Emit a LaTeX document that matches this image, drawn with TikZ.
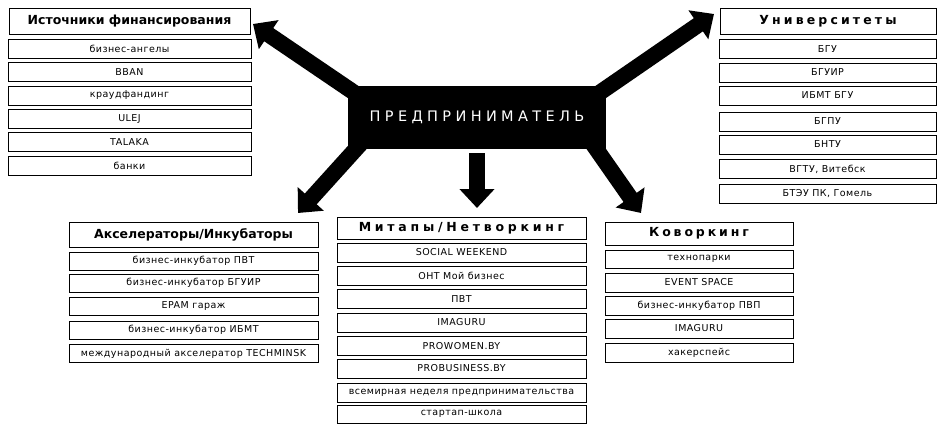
\documentclass[tikz,border=0pt]{standalone}
\usepackage{fontspec}
\setmainfont{DejaVu Sans}
\usetikzlibrary{arrows.meta}
\tikzset{
  box/.style={draw=black, line width=0.8pt, inner sep=0pt, outer sep=0pt, fill=white},
  item/.style={box, minimum height=19pt, font=\fontsize{9.5}{11}\selectfont\addfontfeatures{LetterSpace=5}},
  hdr/.style={box, font=\fontsize{12.5}{14}\selectfont\bfseries},
  hub/.style={fill=black, text=white, inner sep=0pt, outer sep=0pt, minimum width=258pt, minimum height=63pt,
     font=\fontsize{14.5}{16}\selectfont\addfontfeatures{LetterSpace=30}},
  bigarrow/.style={line width=16pt, -{Triangle[length=19pt,width=34pt]}, black}
}
\begin{document}
\begin{tikzpicture}[x=1pt,y=-1pt]
\useasboundingbox (0,0) rectangle (945,431);
% hub
\node[hub] (hub) at (477,117.5) {ПРЕДПРИНИМАТЕЛЬ};
\coordinate (s1) at (362,98);
\coordinate (t1) at (253,24);
\coordinate (s2) at (592,98);
\coordinate (t2) at (714,14);
\coordinate (s3) at (364,140);
\coordinate (t3) at (298,213);
\coordinate (s4) at (590,140);
\coordinate (t4) at (641,213);
\coordinate (s5) at (hub.south);
\coordinate (t5) at (477,208);
\draw[bigarrow] (s1) -- (t1);
\draw[bigarrow] (s2) -- (t2);
\draw[bigarrow] (s3) -- (t3);
\draw[bigarrow] (s4) -- (t4);
\draw[bigarrow] ([yshift=-4pt]s5) -- (t5);
% left group
\node[hdr, minimum width=241pt, minimum height=26pt] (L) at (129.5,21) {Источники финансирования};
\node[item, minimum width=243pt] (L1) at (129.5,49) {бизнес-ангелы};
\node[item, minimum width=243pt] (L2) at (129.5,72) {BBAN};
\node[item, minimum width=243pt] (L3) at (129.5,95.5) {краудфандинг};
\node[item, minimum width=243pt] (L4) at (129.5,118.5) {ULEJ};
\node[item, minimum width=243pt] (L5) at (129.5,142) {TALAKA};
\node[item, minimum width=243pt] (L6) at (129.5,166) {банки};
% right group
\node[hdr, minimum width=216pt, minimum height=26pt, font=\fontsize{12.5}{14}\selectfont\bfseries\addfontfeatures{LetterSpace=25}] (R) at (828,21) {Университеты};
\node[item, minimum width=217pt] (R1) at (827.5,49) {БГУ};
\node[item, minimum width=217pt] (R2) at (827.5,72.5) {БГУИР};
\node[item, minimum width=217pt] (R3) at (827.5,95.5) {ИБМТ БГУ};
\node[item, minimum width=217pt] (R4) at (827.5,121.5) {БГПУ};
\node[item, minimum width=217pt] (R5) at (827.5,144.5) {БНТУ};
\node[item, minimum width=217pt] (R6) at (827.5,169) {ВГТУ, Витебск};
\node[item, minimum width=217pt] (R7) at (827.5,194) {БТЭУ ПК, Гомель};
% bottom left
\node[hdr, minimum width=249pt, minimum height=25pt] (A) at (193.5,234.5) {Акселераторы/Инкубаторы};
\node[item, minimum width=249pt, minimum height=18pt] (A1) at (193.5,261) {бизнес-инкубатор ПВТ};
\node[item, minimum width=249pt, minimum height=18pt] (A2) at (193.5,283) {бизнес-инкубатор БГУИР};
\node[item, minimum width=249pt, minimum height=18pt] (A3) at (193.5,306) {EPAM гараж};
\node[item, minimum width=249pt, minimum height=18pt] (A4) at (193.5,330) {бизнес-инкубатор ИБМТ};
\node[item, minimum width=249pt, minimum height=18pt] (A5) at (193.5,353.5) {международный акселератор TECHMINSK};
% bottom center
\node[hdr, minimum width=249pt, minimum height=22pt, font=\fontsize{12.5}{14}\selectfont\bfseries\addfontfeatures{LetterSpace=30}] (M) at (461.5,228) {Митапы/Нетворкинг};
\node[item, minimum width=249pt] (M1) at (461.5,252.5) {SOCIAL WEEKEND};
\node[item, minimum width=249pt] (M2) at (461.5,276) {ОНТ Мой бизнес};
\node[item, minimum width=249pt] (M3) at (461.5,299) {ПВТ};
\node[item, minimum width=249pt] (M4) at (461.5,322.5) {IMAGURU};
\node[item, minimum width=249pt] (M5) at (461.5,346) {PROWOMEN.BY};
\node[item, minimum width=249pt] (M6) at (461.5,368.5) {PROBUSINESS.BY};
\node[item, minimum width=249pt] (M7) at (461.5,392.5) {всемирная неделя предпринимательства};
\node[item, minimum width=249pt, minimum height=18pt] (M8) at (461.5,414) {стартап-школа};
% bottom right
\node[hdr, minimum width=188pt, minimum height=23pt, font=\fontsize{12.5}{14}\selectfont\bfseries\addfontfeatures{LetterSpace=23}] (K) at (699,233.5) {Коворкинг};
\node[item, minimum width=188pt, minimum height=18pt] (K1) at (699,259) {технопарки};
\node[item, minimum width=188pt] (K2) at (699,282.5) {EVENT SPACE};
\node[item, minimum width=188pt] (K3) at (699,305.5) {бизнес-инкубатор ПВП};
\node[item, minimum width=188pt] (K4) at (699,328.5) {IMAGURU};
\node[item, minimum width=188pt] (K5) at (699,352.5) {хакерспейс};
\end{tikzpicture}
\end{document}
